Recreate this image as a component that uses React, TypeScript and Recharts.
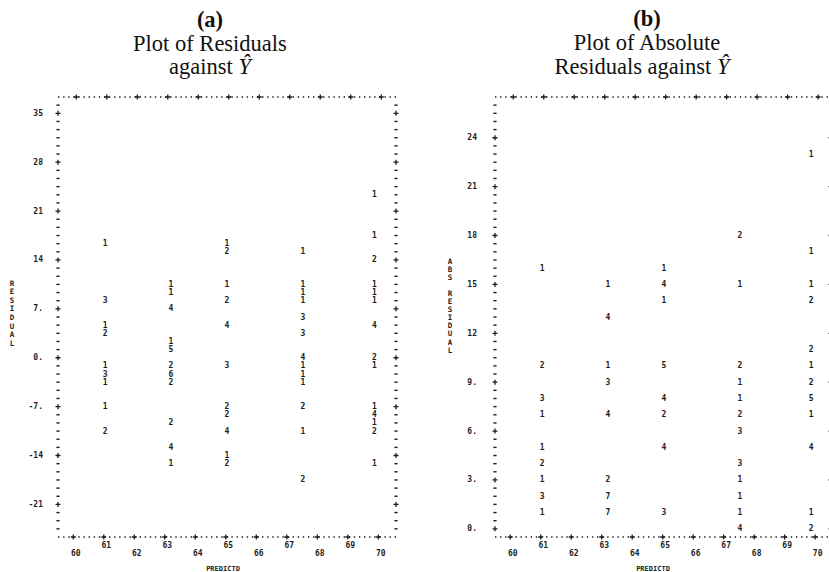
import { ScatterChart, Scatter, XAxis, YAxis } from "recharts";

// Fitted values (PREDICTD) for the five groups
const FITTED = [61.05, 63.2, 65.04, 67.53, 69.87];

// [residual, number of cases printed at that level], one list per fitted group
const RESID_G1 = [[16.33, 1], [8.17, 3], [4.67, 1], [3.5, 2], [-1.17, 1], [-2.33, 3], [-3.5, 1], [-7, 1], [-10.5, 2]];
const RESID_G2 = [[10.5, 1], [9.33, 1], [7, 4], [2.33, 1], [1.17, 5], [-1.17, 2], [-2.33, 6], [-3.5, 2], [-9.33, 2], [-12.83, 4], [-15.17, 1]];
const RESID_G3 = [[16.33, 1], [15.17, 2], [10.5, 1], [8.17, 2], [4.67, 4], [-1.17, 3], [-7, 2], [-8.17, 2], [-10.5, 4], [-14, 1], [-15.17, 2]];
const RESID_G4 = [[15.17, 1], [10.5, 1], [9.33, 1], [8.17, 1], [5.83, 3], [3.5, 3], [0, 4], [-1.17, 1], [-2.33, 1], [-3.5, 1], [-7, 2], [-10.5, 1], [-17.5, 2]];
const RESID_G5 = [[23.33, 1], [17.5, 1], [14, 2], [10.5, 1], [9.33, 1], [8.17, 1], [4.67, 4], [0, 2], [-1.17, 1], [-7, 1], [-8.17, 4], [-9.33, 1], [-10.5, 2], [-15.17, 1]];

// [absolute residual, count]
const ABS_G1 = [[16, 1], [10, 2], [8, 3], [7, 1], [5, 1], [4, 2], [3, 1], [2, 3], [1, 1]];
const ABS_G2 = [[15, 1], [13, 4], [10, 1], [9, 3], [7, 4], [3, 2], [2, 7], [1, 7]];
const ABS_G3 = [[16, 1], [15, 4], [14, 1], [10, 5], [8, 4], [7, 2], [5, 4], [1, 3]];
const ABS_G4 = [[18, 2], [15, 1], [10, 2], [9, 1], [8, 1], [7, 2], [6, 3], [4, 3], [3, 1], [2, 1], [1, 1], [0, 4]];
const ABS_G5 = [[23, 1], [17, 1], [15, 1], [14, 2], [11, 2], [10, 1], [9, 2], [8, 5], [7, 1], [5, 4], [1, 1], [0, 2]];

const X_TICKS = [60, 61, 62, 63, 64, 65, 66, 67, 68, 69, 70];
const RESID_TICKS = [-21, -14, -7, 0, 7, 14, 21, 28, 35];
const RESID_TICK_LABELS = ["-21", "-14", "-7.", "0.", "7.", "14", "21", "28", "35"];
const ABS_TICKS = [0, 3, 6, 9, 12, 15, 18, 21, 24];
const ABS_TICK_LABELS = ["0.", "3.", "6.", "9.", "12", "15", "18", "21", "24"];

const INK = "#1d1d1d";
const MONO = "'DejaVu Sans Mono', 'Liberation Mono', monospace";
const SERIF = "'Liberation Serif', 'DejaVu Serif', serif";

type Pt = { x: number; y: number; n: number };

const toPoints = (groups: number[][][]): Pt[] =>
  groups.flatMap((g, i) => g.map(([y, n]) => ({ x: FITTED[i], y, n })));

const residPoints = toPoints([RESID_G1, RESID_G2, RESID_G3, RESID_G4, RESID_G5]);
const absPoints = toPoints([ABS_G1, ABS_G2, ABS_G3, ABS_G4, ABS_G5]);

// one printer line per row: 6 rows for every labelled step
function rowTicks(step: number, first: number, last: number) {
  const out: number[] = [];
  for (let k = first; k <= last; k++) out.push(k * step);
  return out;
}

const plus = (x: number, y: number, r = 2.5) => `M${x - r},${y}h${2 * r}M${x},${y - r}v${2 * r}`;

const monoText = {
  fontFamily: MONO,
  fontWeight: 700,
  fontSize: 8,
  fill: INK,
};

function BottomTick(props: any) {
  const { x, y, payload } = props;
  const v = payload.value;
  const odd = v % 2 === 1;
  return (
    <g>
      <path d={plus(x, y)} stroke={INK} strokeWidth={1.3} />
      <text x={x + 2.5} y={y + (odd ? 8 : 16.5)} textAnchor="middle" dominantBaseline="central" {...monoText}>
        {v}
      </text>
    </g>
  );
}

function TopTick(props: any) {
  const { x, y } = props;
  return <path d={plus(x + 3, y)} stroke={INK} strokeWidth={1.3} />;
}

function makeRowTick(values: number[], labels: string[], gap: number, withLabels: boolean) {
  return (props: any) => {
    const { x, y, payload } = props;
    const i = values.findIndex((v) => Math.abs(v - payload.value) < 1e-6);
    if (i < 0) return <path d={`M${x - 1.6},${y}h3.2`} stroke={INK} strokeWidth={1.4} />;
    return (
      <g>
        <path d={plus(x, y)} stroke={INK} strokeWidth={1.3} />
        {withLabels && (
          <text x={x - gap} y={y} textAnchor="end" dominantBaseline="central" {...monoText}>
            {labels[i]}
          </text>
        )}
      </g>
    );
  };
}

// axis title printed one character per line
const stackedLabel = (letters: string, x: number, top: number, step: number) => () => (
  <g>
    {letters.split("").map((c, i) => (
      <text key={i} x={x} y={top + i * step} textAnchor="middle" dominantBaseline="central" {...monoText} fontSize={7.5}>
        {c}
      </text>
    ))}
  </g>
);

const flatLabel = (value: string, x: number, y: number) => () => (
  <text x={x} y={y} textAnchor="middle" dominantBaseline="central" {...monoText} fontSize={7}>
    {value}
  </text>
);

const countGlyph = (props: any) => (
  <text
    x={props.cx}
    y={props.cy}
    textAnchor="middle"
    dominantBaseline="central"
    fontFamily={MONO}
    fontWeight={700}
    fontSize={8}
    fill={INK}
  >
    {props.payload.n}
  </text>
);

const noGlyph = () => <g />;

const dotted = { stroke: INK, strokeDasharray: "1.4 3.7", strokeWidth: 1.4 };

type PanelProps = {
  left: number;
  width: number;
  marginLeft: number;
  marginRight: number;
  xDomain: [number, number];
  yDomain: [number, number];
  rows: number[];
  ticks: number[];
  tickLabels: string[];
  labelGap: number;
  points: Pt[];
  axisTitle: string;
  axisTitleX: number;
  axisTitleTop: number;
  axisTitleStep: number;
  predictdX: number;
};

// axes are 1px thick so they still render; margins leave the frame at the wanted spot
function PrinterPanel(p: PanelProps) {
  return (
    <div style={{ position: "absolute", left: p.left, top: 0 }}>
      <ScatterChart
        width={p.width}
        height={572}
        margin={{ top: 96, bottom: 34, left: p.marginLeft, right: p.marginRight }}
      >
        <XAxis
          xAxisId="b"
          type="number"
          dataKey="x"
          domain={p.xDomain}
          allowDataOverflow
          ticks={X_TICKS}
          interval={0}
          height={1}
          tickSize={0}
          tickMargin={0}
          axisLine={dotted}
          tick={BottomTick}
          label={flatLabel("PREDICTD", p.predictdX, 569)}
        />
        <XAxis
          xAxisId="t"
          orientation="top"
          type="number"
          dataKey="x"
          domain={p.xDomain}
          allowDataOverflow
          ticks={X_TICKS}
          interval={0}
          height={1}
          tickSize={0}
          tickMargin={0}
          axisLine={dotted}
          tick={TopTick}
        />
        <YAxis
          yAxisId="l"
          type="number"
          dataKey="y"
          domain={p.yDomain}
          allowDataOverflow
          ticks={p.rows}
          interval={0}
          width={1}
          tickSize={0}
          tickMargin={0}
          axisLine={false}
          tick={makeRowTick(p.ticks, p.tickLabels, p.labelGap, true)}
          label={stackedLabel(p.axisTitle, p.axisTitleX, p.axisTitleTop, p.axisTitleStep)}
        />
        <YAxis
          yAxisId="r"
          orientation="right"
          type="number"
          dataKey="y"
          domain={p.yDomain}
          allowDataOverflow
          ticks={p.rows}
          interval={0}
          width={1}
          tickSize={0}
          tickMargin={0}
          axisLine={false}
          tick={makeRowTick(p.ticks, p.tickLabels, 0, false)}
        />
        <Scatter
          data={p.points}
          xAxisId="b"
          yAxisId="l"
          shape={countGlyph}
          isAnimationActive={false}
        />
        {/* same points on the top/right frame axes, drawn empty, so those axes get their ticks */}
        <Scatter
          data={p.points}
          xAxisId="t"
          yAxisId="r"
          shape={noGlyph}
          isAnimationActive={false}
        />
      </ScatterChart>
    </div>
  );
}

const titleLine = (top: number, center: number): React.CSSProperties => ({
  position: "absolute",
  left: center - 200,
  width: 400,
  top,
  textAlign: "center",
  fontFamily: SERIF,
  fontSize: 22.5,
  lineHeight: "23px",
  color: "#111",
  whiteSpace: "nowrap",
});

const YHAT = <i>Ŷ</i>;

export default function App() {
  const residStep = 7 / 6;
  return (
    <div
      style={{
        position: "absolute",
        left: 0,
        top: 0,
        width: 829,
        height: 572,
        overflow: "hidden",
        background: "#fff",
      }}
    >
      <div style={{ ...titleLine(8, 210), fontWeight: 700 }}>(a)</div>
      <div style={titleLine(31.5, 210)}>Plot of Residuals</div>
      <div style={titleLine(54.5, 210)}>against {YHAT}</div>

      <div style={{ ...titleLine(6.5, 647), fontWeight: 700 }}>(b)</div>
      <div style={titleLine(30.5, 647)}>Plot of Absolute</div>
      <div style={titleLine(54.5, 642)}>Residuals against {YHAT}</div>

      <PrinterPanel
        left={0}
        width={420}
        marginLeft={57}
        marginRight={23}
        xDomain={[59.5, 70.58]}
        yDomain={[-22 * residStep, 32 * residStep]}
        rows={rowTicks(residStep, -21, 31)}
        ticks={RESID_TICKS}
        tickLabels={RESID_TICK_LABELS}
        labelGap={15}
        points={residPoints}
        axisTitle="RESIDUAL"
        axisTitleX={12}
        axisTitleTop={283}
        axisTitleStep={8.6}
        predictdX={223}
      />

      <PrinterPanel
        left={420}
        width={420}
        marginLeft={74}
        marginRight={8}
        xDomain={[59.5, 70.52]}
        yDomain={[-0.5, 26.5]}
        rows={rowTicks(0.5, 0, 52)}
        ticks={ABS_TICKS}
        tickLabels={ABS_TICK_LABELS}
        labelGap={18}
        points={absPoints}
        axisTitle="ABS RESIDUAL"
        axisTitleX={30}
        axisTitleTop={261}
        axisTitleStep={8.1}
        predictdX={233}
      />
    </div>
  );
}
